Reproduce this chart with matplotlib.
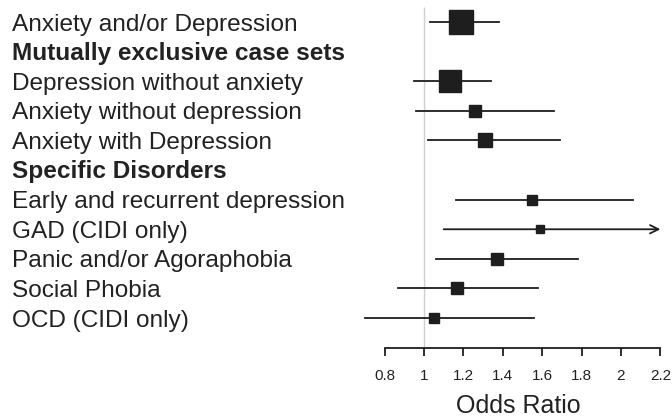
import matplotlib
matplotlib.use("Agg")
import matplotlib.pyplot as plt

plt.rcParams['font.family'] = ['Liberation Sans', 'DejaVu Sans']

# rows from top to bottom; None = section header
labels = ['Anxiety and/or Depression', 'Mutually exclusive case sets',
          'Depression without anxiety', 'Anxiety without depression',
          'Anxiety with Depression', 'Specific Disorders',
          'Early and recurrent depression', 'GAD (CIDI only)',
          'Panic and/or Agoraphobia', 'Social Phobia', 'OCD (CIDI only)']
is_header = [False, True, False, False, False, True, False, False, False, False, False]
odds = [1.19, None, 1.13, 1.26, 1.31, None, 1.55, 1.59, 1.37, 1.17, 1.05]
lower = [1.03, None, 0.95, 0.96, 1.02, None, 1.16, 1.10, 1.06, 0.87, 0.70]
upper = [1.38, None, 1.34, 1.66, 1.69, None, 2.06, 2.40, 1.78, 1.58, 1.56]
box = [16.8, None, 15.3, 9.1, 9.6, None, 7.4, 5.8, 8.6, 8.6, 7.7]  # marker size ~ weight
xticks = [0.8, 1, 1.2, 1.4, 1.6, 1.8, 2, 2.2]
xmax_axis = 2.2

fig = plt.figure(figsize=(6.72, 4.18), dpi=100)
ax = fig.add_axes([364.9 / 672, 70 / 418, (672 - 364.9) / 672, 348 / 418])
ax.set_xlim(0.7, 2.259)
ax.set_ylim(11.01, -0.743)

ink = '#1e1e1e'
ax.vlines(1, -0.5, 11.01, color='#cfcfcf', lw=1.0, zorder=0)

for i, lab in enumerate(labels):
    fig.text(12 / 672, 1 - (22 + i * 29.6 + 8.5) / 418, lab, ha='left', va='baseline',
             fontsize=17.6, color='#222222',
             fontweight='bold' if is_header[i] else 'normal')
    if odds[i] is None:
        continue
    hi = min(upper[i], xmax_axis)
    if upper[i] > xmax_axis:
        ax.annotate('', xy=(hi, i), xytext=(lower[i], i),
                    arrowprops=dict(arrowstyle='->', color=ink, lw=1.3,
                                    mutation_scale=15, shrinkA=0, shrinkB=0),
                    annotation_clip=False)
    else:
        ax.plot([lower[i], hi], [i, i], color=ink, lw=1.3, clip_on=False)
    ax.plot(odds[i], i, marker='s', ms=box[i], color=ink, mec=ink, clip_on=False)

for s in ['top', 'right', 'left']:
    ax.spines[s].set_visible(False)
ax.spines['bottom'].set_bounds(xticks[0], xticks[-1])
ax.spines['bottom'].set_color(ink)
ax.spines['bottom'].set_linewidth(1.3)
ax.set_yticks([])
ax.set_xticks(xticks)
ax.set_xticklabels(['0.8', '1', '1.2', '1.4', '1.6', '1.8', '2', '2.2'])
ax.tick_params(axis='x', direction='out', length=6, width=1.3, color=ink,
               labelsize=11, labelcolor='#222222', pad=9)
ax.set_xlabel('Odds Ratio', fontsize=18, color='#222222', labelpad=8)
ax.patch.set_visible(False)

fig.savefig('out.png', dpi=100)
